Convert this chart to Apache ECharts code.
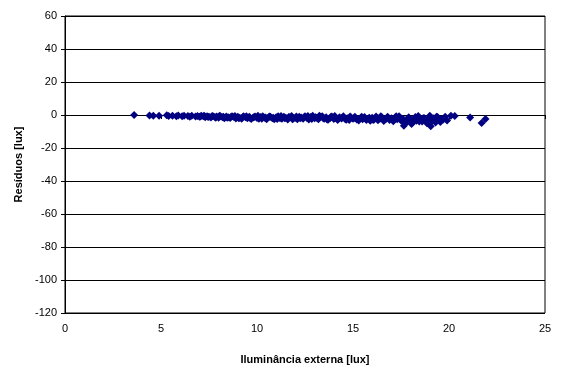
<!DOCTYPE html>
<html>
<head>
<meta charset="utf-8">
<script src="https://cdn.jsdelivr.net/npm/echarts@6/dist/echarts.min.js"></script>
<style>html,body{margin:0;padding:0;background:#fff}#c{width:563px;height:370px}</style>
</head>
<body>
<div id="c"></div>
<script>
var xAxisTitle = 'Iluminância externa [lux]';
var yAxisTitle = 'Resíduos [lux]';
var xTicks = [0, 5, 10, 15, 20, 25];
var yTicks = [-120, -100, -80, -60, -40, -20, 0, 20, 40, 60];

var residualPoints = [
  [3.6,0.0],[4.4,-0.3],[4.6,-0.5],[4.9,-0.4],[5.3,-0.2],[5.4,-0.6],[5.6,-0.4],[5.8,-0.7],[5.9,-0.3],
  [6.1,-0.8],[6.2,-0.5],[6.4,-0.6],[6.5,-1.0],[6.6,-0.4],[6.8,-0.9],[6.9,-0.6],[7.0,-1.1],[7.1,-0.5],
  [7.2,-0.8],[7.3,-1.3],[7.4,-0.7],[7.5,-1.0],[7.6,-1.5],[7.7,-0.6],[7.8,-1.2],[7.9,-0.9],[8.0,-1.6],
  [8.1,-0.8],[8.2,-1.3],[8.3,-2.0],[8.4,-0.9],[8.5,-1.4],[8.6,-1.8],[8.7,-0.7],[8.8,-1.2],[8.9,-2.1],
  [9.0,-1.0],[9.1,-1.6],[9.2,-2.3],[9.3,-0.8],[9.4,-1.4],[9.5,-1.9],[9.6,-1.1],[9.7,-2.4],[9.8,-1.5],
  [9.9,-0.9],[10.0,-1.8],[10.1,-2.2],[10.2,-1.2],[10.3,-0.7],[10.4,-1.7],[10.5,-2.5],[10.6,-1.3],
  [10.7,-1.0],[10.8,-2.0],[10.9,-2.6],[11.0,-1.4],[11.1,-0.8],[11.2,-1.9],[11.3,-2.3],[11.4,-1.1],
  [11.5,-1.6],[11.6,-2.7],[11.7,-1.3],[11.8,-0.6],[11.9,-2.1],[12.0,-1.7],[12.1,-2.5],[12.2,-1.0],
  [12.3,-1.5],[12.4,-2.2],[12.5,-0.7],[12.6,-1.8],[12.7,-2.8],[12.8,-1.2],[12.9,-0.5],[13.0,-2.0],
  [13.1,-1.6],[13.2,-2.6],[13.3,-1.1],[13.4,-0.8],[13.5,-2.3],[13.6,-1.4],[13.7,-2.9],[13.8,-1.9],
  [13.9,-0.9],[14.0,-2.4],[14.1,-1.7],[14.2,-3.0],[14.3,-1.3],[14.4,-2.1],[14.5,-0.8],[14.6,-2.6],
  [14.7,-1.9],[14.8,-3.1],[14.9,-1.5],[15.0,-2.3],[15.1,-1.1],[15.2,-2.8],[15.3,-3.3],[15.4,-1.8],
  [15.5,-2.5],[15.6,-1.2],[15.7,-3.0],[15.8,-2.1],[15.9,-3.5],[16.0,-1.6],[16.1,-2.7],[16.2,-0.9],
  [16.3,-3.2],[16.4,-2.2],[16.5,-1.4],[16.6,-3.6],[16.7,-2.5],[16.8,-1.0],[16.9,-3.0],[17.0,-2.0],
  [17.1,-3.8],[17.2,-1.5],[17.3,-2.6],[17.4,-0.8],[17.5,-3.3],[17.6,-2.2],[17.7,-5.0],[17.8,-4.2],
  [17.9,-1.3],[18.0,-3.0],[18.1,-4.5],[18.2,-2.1],[18.3,-3.5],[18.4,-0.6],[18.5,-2.7],[18.6,-4.0],
  [18.7,-1.8],[18.8,-3.2],[18.9,-2.4],[19.0,-0.4],[19.1,-3.7],[19.2,-2.0],[19.3,-4.6],[19.4,-1.2],
  [19.5,-3.0],[19.6,-2.4],[19.8,-1.0],[19.9,-3.4],[20.1,-0.5],[20.3,-0.6],[21.1,-1.5],[21.7,-4.8],[21.9,-2.4]
];
var residualPointsExtra = [
  [7.05,-0.9],[7.25,-0.4],[7.45,-1.2],[7.65,-0.8],[7.85,-1.6],[8.05,-0.5],[8.25,-1.1],[8.45,-1.7],
  [8.65,-1.0],[8.85,-0.6],[9.05,-1.9],[9.25,-1.3],[9.45,-0.7],[9.65,-2.0],[9.85,-1.2],[10.05,-0.5],
  [10.25,-2.3],[10.45,-1.5],[10.65,-0.9],[10.85,-1.7],[11.05,-2.4],[11.25,-0.6],[11.45,-1.9],[11.65,-1.2],
  [11.85,-2.6],[12.05,-0.9],[12.25,-2.0],[12.45,-1.4],[12.65,-0.6],[12.85,-2.4],[13.05,-1.3],[13.25,-0.4],
  [13.45,-1.9],[13.65,-2.7],[13.85,-1.1],[14.05,-0.6],[14.25,-2.1],[14.45,-1.5],[14.65,-2.9],[14.85,-0.9],
  [15.05,-1.9],[15.25,-2.6],[15.45,-1.0],[15.65,-2.3],[15.85,-1.6],[16.05,-3.1],[16.25,-2.0],[16.45,-0.7],
  [16.65,-2.8],[16.85,-1.8],[17.05,-2.9],[17.25,-0.7],[17.45,-2.3],[17.65,-6.5],[17.85,-3.1],[18.05,-5.5],
  [18.25,-1.2],[18.45,-4.0],[18.65,-2.0],[18.85,-5.0],[19.05,-6.8],[19.15,-2.6],[19.35,-1.1],[19.55,-4.2],[19.7,-2.8]
];

var chart = echarts.init(document.getElementById('c'), null, {renderer: 'canvas'});
var font = 'Liberation Sans, Arial, sans-serif';
chart.setOption({
  animation: false,
  backgroundColor: '#fff',
  grid: {left: 65, top: 16, right: 18, bottom: 55, show: true, borderColor: '#000', borderWidth: 1},
  xAxis: {
    type: 'value', min: xTicks[0], max: xTicks[xTicks.length - 1], interval: 5,
    name: xAxisTitle, nameLocation: 'middle', nameGap: 41,
    nameTextStyle: {fontFamily: font, fontSize: 11, fontWeight: 'bold', color: '#000'},
    axisLine: {lineStyle: {color: '#000', width: 1}},
    axisTick: {show: true, inside: false, length: 4, lineStyle: {color: '#000'}},
    axisLabel: {fontFamily: font, fontSize: 11, color: '#000', margin: 10},
    splitLine: {show: false}
  },
  yAxis: {
    type: 'value', min: yTicks[0], max: yTicks[yTicks.length - 1], interval: 20,
    name: yAxisTitle, nameLocation: 'middle', nameGap: 40,
    nameTextStyle: {fontFamily: font, fontSize: 11, fontWeight: 'bold', color: '#000'},
    axisLine: {show: true, lineStyle: {color: '#000', width: 1}},
    axisTick: {show: true, inside: false, length: 4, lineStyle: {color: '#000'}},
    axisLabel: {fontFamily: font, fontSize: 11, color: '#000', margin: 8},
    splitLine: {show: true, lineStyle: {color: '#000', width: 1}}
  },
  series: [
    {type: 'scatter', data: residualPoints, symbol: 'diamond', symbolSize: 8,
     itemStyle: {color: '#000080', opacity: 1}},
    {type: 'scatter', data: residualPointsExtra, symbol: 'diamond', symbolSize: 8,
     itemStyle: {color: '#000080', opacity: 1}}
  ]
});
</script>
</body>
</html>
